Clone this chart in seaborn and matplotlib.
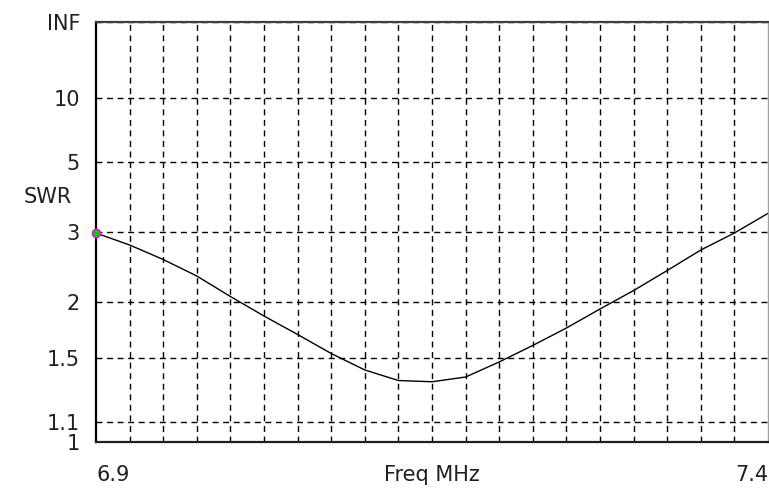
import numpy as np
import pandas as pd
import matplotlib
matplotlib.use("Agg")
import matplotlib.pyplot as plt
import seaborn as sns

# ---- data ----
freq_mhz = [6.900, 6.925, 6.950, 6.975, 7.000, 7.025, 7.050, 7.075, 7.100, 7.125,
            7.150, 7.175, 7.200, 7.225, 7.250, 7.275, 7.300, 7.325, 7.350, 7.375, 7.400]
swr = [2.98, 2.767, 2.537, 2.307, 2.06, 1.857, 1.688, 1.534, 1.414, 1.343,
       1.335, 1.366, 1.471, 1.597, 1.745, 1.927, 2.128, 2.380, 2.684, 2.981, 3.39]
swr_ticks = [1.0, 1.1, 1.5, 2, 3, 5, 10, 1e9]
swr_tick_labels = ["1", "1.1", "1.5", "2", "3", "5", "10", "INF"]
x_ticks = [6.9, 7.4]
x_tick_labels = ["6.9", "7.4"]

df = pd.DataFrame({"Freq MHz": freq_mhz, "SWR": swr})

sns.set_theme(style="white")
plt.rcParams["font.family"] = ["DejaVu Sans"]
plt.rcParams["lines.scale_dashes"] = False

W, H = 769, 488
fig = plt.figure(figsize=(W / 100, H / 100), dpi=100)
ax = fig.add_axes([96 / W, (H - 442) / H, (768 - 96) / W, (442 - 22) / H])


def fwd(s):
    s = np.asarray(s, dtype=float)
    return (s - 1.0) / (s + 1.0)


def inv(r):
    r = np.clip(np.asarray(r, dtype=float), -0.999999, 0.999999999)
    return (1.0 + r) / (1.0 - r)


ax.set_yscale("function", functions=(fwd, inv))

sns.lineplot(data=df, x="Freq MHz", y="SWR", ax=ax, color="black", lw=1.0)
ax.plot(freq_mhz[0], swr[0], marker="o", ms=6, mfc="#00cc00", mec="#ff00ff",
        mew=1.0, clip_on=False, zorder=5)

ax.set_xlim(6.9, 7.4)
ax.set_ylim(1.0, 1e9)

ax.set_yticks(swr_ticks)
ax.set_yticklabels(swr_tick_labels)
ax.yaxis.set_minor_locator(matplotlib.ticker.NullLocator())
ax.set_xticks(x_ticks)
ax.set_xticklabels(x_tick_labels)
ax.set_xticks(np.arange(6.925, 7.39, 0.025), minor=True)

ax.tick_params(axis="both", which="both", length=0, labelsize=15, colors="#202020")
ax.tick_params(axis="y", pad=11.5)
ax.tick_params(axis="x", pad=16.5)
xl = ax.get_xticklabels()
xl[0].set_ha("left")
xl[1].set_ha("right")

dash = (0, (4.3, 3.3))
ax.grid(False)
ax.xaxis.grid(True, which="minor", color="black", lw=1.0, linestyle=dash)
ax.yaxis.grid(True, which="major", color="black", lw=1.0, linestyle=dash)

ax.set_xlabel("Freq MHz", fontsize=15, color="#202020", va="top")
ax.xaxis.set_label_coords(0.5, -(465 - 442) / 420)
ax.set_ylabel("")

for side in ax.spines.values():
    side.set_visible(True)
ax.spines["left"].set_color("black")
ax.spines["left"].set_linewidth(1.6)
ax.spines["bottom"].set_color("#202020")
ax.spines["bottom"].set_linewidth(1.6)
ax.spines["top"].set_color("#404040")
ax.spines["top"].set_linewidth(1.6)
ax.spines["right"].set_color("#a0a0a0")
ax.spines["right"].set_linewidth(1.0)

fig.text(72 / W, 1 - 197 / H, "SWR", ha="right", va="center", fontsize=15, color="#202020")

fig.savefig("out.png", dpi=100, facecolor="white")
